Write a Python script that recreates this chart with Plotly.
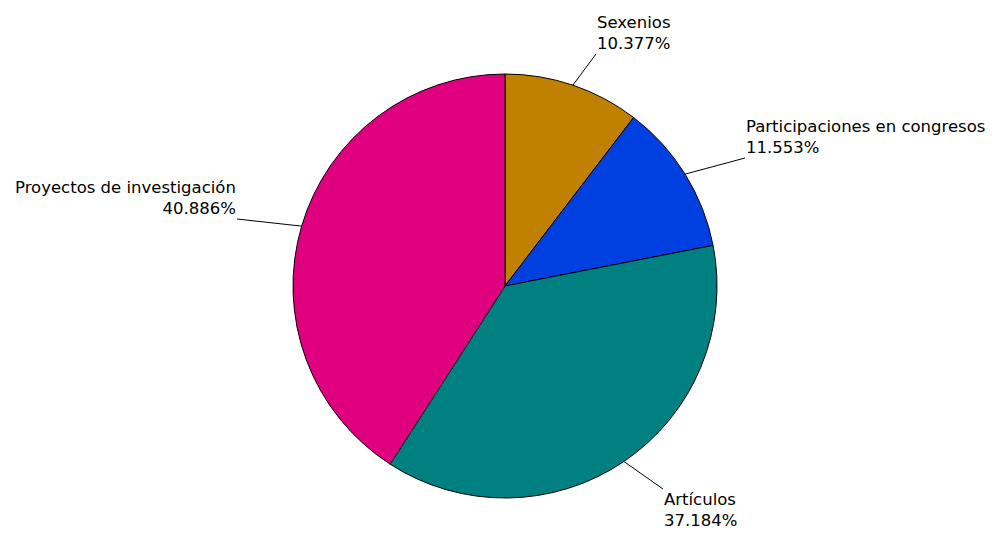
import math
import plotly.graph_objects as go

categories = ["Sexenios", "Participaciones en congresos", "Artículos", "Proyectos de investigación"]
values = [10.377, 11.553, 37.184, 40.886]
colors = ["#C08000", "#0040E0", "#008080", "#E0007F"]

# label text positions (pixels) and anchors
label_pos = [(596, 54), (745, 158), (663, 489), (237, 219)]
label_anchor = [("left", "bottom"), ("left", "bottom"), ("left", "top"), ("right", "bottom")]

W, H = 998, 542
OFF = 8  # page body margin offset of the figure
CX, CY, R = 505 - OFF, 286 - OFF, 212

fig = go.Figure()
fig.add_trace(go.Pie(
    labels=categories,
    values=values,
    sort=False,
    direction="clockwise",
    rotation=0,
    marker=dict(colors=colors, line=dict(color="black", width=1)),
    textinfo="none",
    hoverinfo="label+percent",
    showlegend=False,
    domain=dict(x=[(CX - R) / W, (CX + R) / W], y=[(H - CY - R) / H, (H - CY + R) / H]),
))
fig.add_trace(go.Scatter(x=[], y=[], showlegend=False, hoverinfo="skip"))

total = sum(values)
cum = 0.0
for lab, v, (tx, ty), (xa, ya) in zip(categories, values, label_pos, label_anchor):
    mid = (cum + v / 2) / total * 2 * math.pi
    cum += v
    hx = CX + R * math.sin(mid)
    hy = CY - R * math.cos(mid)
    pct = v / total * 100
    fig.add_annotation(
        x=hx, y=hy, xref="x", yref="y",
        ax=tx - OFF, ay=ty - OFF, axref="x", ayref="y",
        text=f"{lab}<br>{pct:.3f}%",
        showarrow=True, arrowhead=0, arrowwidth=1, arrowcolor="black",
        standoff=0, startstandoff=0,
        xanchor=xa, yanchor=ya, align="right" if xa == "right" else "left",
        font=dict(family="DejaVu Sans", size=16.5, color="black"),
        borderpad=0,
    )

fig.update_layout(
    width=W, height=H,
    margin=dict(l=0, r=0, t=0, b=0),
    paper_bgcolor="white",
    plot_bgcolor="rgba(0,0,0,0)",
    xaxis=dict(range=[0, W], visible=False, fixedrange=True),
    yaxis=dict(range=[H, 0], visible=False, fixedrange=True),
)
fig.write_html("out.html")
